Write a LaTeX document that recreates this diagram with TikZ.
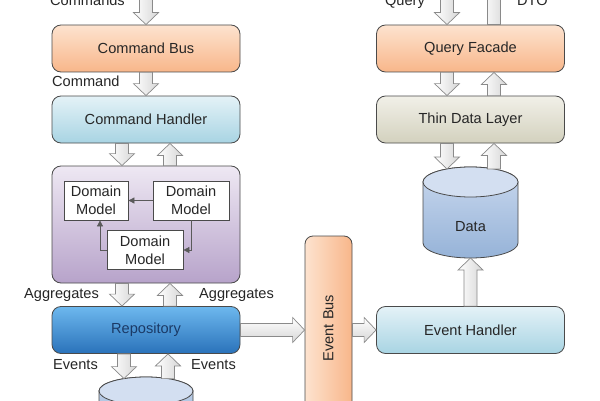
\documentclass[tikz,border=0pt]{standalone}
\usepackage{fontspec}
\usepackage{graphicx}
\setmainfont{Liberation Sans}
\usetikzlibrary{calc,arrows.meta}
\definecolor{orTop}{HTML}{FDE3CF}
\definecolor{orBot}{HTML}{F8B68A}
\definecolor{blTop}{HTML}{E4F2F7}
\definecolor{blBot}{HTML}{A8D4E3}
\definecolor{puTop}{HTML}{EEE8F3}
\definecolor{puBot}{HTML}{B7A3CA}
\definecolor{rpTop}{HTML}{6DB8EE}
\definecolor{rpBot}{HTML}{2A72BA}
\definecolor{tdTop}{HTML}{F1F0E8}
\definecolor{tdBot}{HTML}{D3D1BE}
\definecolor{cyTop}{HTML}{C9D8EE}
\definecolor{cyBot}{HTML}{96B3D8}
\definecolor{cyLid}{HTML}{D3DFF1}
\definecolor{boxline}{HTML}{4A4A4A}
\definecolor{arrowline}{HTML}{8A8A8A}
\definecolor{txt}{HTML}{262626}
\definecolor{navy}{HTML}{1B3A66}
\definecolor{dmline}{HTML}{5A5A5A}
\newcommand{\lbl}{\fontsize{14.6}{18}\selectfont}
\tikzset{
	box/.style={rounded corners=9pt, draw=boxline, line width=0.8pt, minimum width=188pt, minimum height=47pt, text=txt, font=\lbl},
	dm/.style={draw=boxline, fill=white, line width=0.8pt, minimum width=76pt, minimum height=39pt, inner sep=1pt, align=center, text=txt, font=\lbl},
	lab/.style={inner sep=0pt, text=txt, font=\lbl},
	cyl/.style={draw=boxline, line width=0.8pt, top color=cyTop, bottom color=cyBot},
	cyllid/.style={draw=boxline, line width=0.8pt, fill=cyLid},
	dmarrow/.style={draw=dmline, line width=0.8pt, -{Triangle[length=6pt,width=6pt]}},
	fat/.style={draw=arrowline, line width=0.7pt, left color=white, right color=black!16, line join=miter,
		to path={
			($(\tikztostart)!6.5pt!90:(\tikztotarget)$)
			-- ($(\tikztotarget)!12pt!(\tikztostart)!6.5pt!-90:(\tikztostart)$)
			-- ($(\tikztotarget)!12pt!(\tikztostart)!12.5pt!-90:(\tikztostart)$)
			-- (\tikztotarget)
			-- ($(\tikztotarget)!12pt!(\tikztostart)!12.5pt!90:(\tikztostart)$)
			-- ($(\tikztotarget)!12pt!(\tikztostart)!6.5pt!90:(\tikztostart)$)
			-- ($(\tikztostart)!6.5pt!-90:(\tikztotarget)$)
			-- cycle}},
	fatx/.style={fat, top color=white, bottom color=black!16}
}
\begin{document}
\begin{tikzpicture}[x=1pt,y=1pt]
	\path[use as bounding box, clip] (0,0) rectangle (600,400);
	\fill[white] (0,0) rectangle (600,400);
	\node[box, top color=orTop, bottom color=orBot] (cbus) at (146,351.5) {Command Bus};
	\node[box, top color=blTop, bottom color=blBot] (chand) at (146,280.5) {Command Handler};
	\node[box, top color=puTop, bottom color=puBot, minimum height=117pt] (dom) at (146,175.5) {};
	\node[dm, minimum width=64pt] (dm1) at (96,199.5) {Domain\\Model};
	\node[dm] (dm2) at (191,199.5) {Domain\\Model};
	\node[dm] (dm3) at (145,150) {Domain\\Model};
	\node[box, top color=rpTop, bottom color=rpBot, text=navy] (repo) at (146,70) {Repository};
	\node[box, left color=orTop, right color=orBot, minimum width=47pt, minimum height=184pt, rounded corners=8pt] (ebus) at (328.5,72) {\rotatebox{90}{Event Bus}};
	\node[box, top color=blTop, bottom color=blBot] (evh) at (470.5,70) {Event Handler};
	\node[box, top color=orTop, bottom color=orBot] (qf) at (470.5,351.5) {Query Facade};
	\node[box, top color=tdTop, bottom color=tdBot] (thin) at (470.5,280.5) {Thin Data Layer};
	\path[cyl] (423,218) -- (423,157) arc[start angle=180, end angle=360, x radius=47.5pt, y radius=15pt] -- (518,218) arc[start angle=0, end angle=180, x radius=47.5pt, y radius=15pt] -- cycle;
	\draw[cyllid] (470.5,218) ellipse [x radius=47.5pt, y radius=15pt];
	\node[lab] (data) at (470.5,173) {Data};
	\path[cyl] (99,9) -- (99,-30) -- (193,-30) -- (193,9) arc[start angle=0, end angle=180, x radius=47pt, y radius=14pt] -- cycle;
	\draw[cyllid] (146,9) ellipse [x radius=47pt, y radius=14pt];
	\coordinate (cin) at (146,406);
	\coordinate (qin) at (447,406);
	\coordinate (dout) at (494,415);
	\coordinate (dtopL) at (447,231);
	\coordinate (dtopR) at (494,231);
	\coordinate (dbase) at (470.5,142);
	\coordinate (stL) at (124,21.4);
	\coordinate (stR) at (168,21.4);
	\draw[fat] (cin) to (cbus.north);
	\draw[fat] (cbus.south) to (chand.north);
	\draw[fat] ([xshift=-24pt]chand.south) to ([xshift=-24pt]dom.north);
	\draw[fat] ([xshift=24pt]dom.north) to ([xshift=24pt]chand.south);
	\draw[fat] ([xshift=-24pt]dom.south) to ([xshift=-24pt]repo.north);
	\draw[fat] ([xshift=24pt]repo.north) to ([xshift=24pt]dom.south);
	\draw[fat] ([xshift=-22pt]repo.south) to (stL);
	\draw[fat] (stR) to ([xshift=22pt]repo.south);
	\draw[fatx] (repo.east) to (ebus.west |- repo.east);
	\draw[fatx] (ebus.east |- evh.west) to (evh.west);
	\draw[fat] (evh.north) to (dbase);
	\draw[fat] (qin) to ([xshift=-23.5pt]qf.north);
	\draw[fat] ([xshift=23.5pt]qf.north) to (dout);
	\draw[fat] ([xshift=-23.5pt]qf.south) to ([xshift=-23.5pt]thin.north);
	\draw[fat] ([xshift=23.5pt]thin.north) to ([xshift=23.5pt]qf.south);
	\draw[fat] ([xshift=-23.5pt]thin.south) to (dtopL);
	\draw[fat] (dtopR) to ([xshift=23.5pt]thin.south);
	\draw[dmarrow] (dm2.west) -- (dm1.east);
	\draw[dmarrow] (dm3.west) -| ([xshift=4pt]dm1.south);
	\draw[dmarrow] (dm2.south) |- (dm3.east);
	\node[lab, anchor=base east] (lcmds) at (125,394) {Commands};
	\node[lab, anchor=base west] (lcmd) at (52,313) {Command};
	\node[lab, anchor=base west] (laggl) at (24,102) {Aggregates};
	\node[lab, anchor=base west] (laggr) at (199,102) {Aggregates};
	\node[lab, anchor=base west] (levl) at (53,31) {Events};
	\node[lab, anchor=base west] (levr) at (191,31) {Events};
	\node[lab, anchor=base east] (lq) at (425,394) {Query};
	\node[lab, anchor=base west] (ldto) at (517,394) {DTO};
\end{tikzpicture}
\end{document}
